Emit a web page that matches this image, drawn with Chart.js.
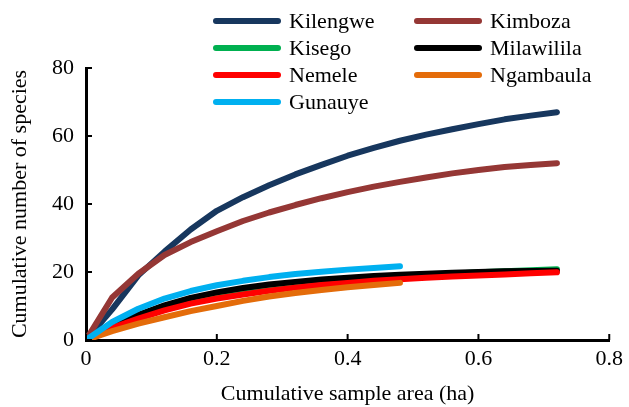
<!DOCTYPE html>
<html>
<head>
<meta charset="utf-8">
<script src="https://cdn.jsdelivr.net/npm/chart.js@4"></script>
<style>
  body { margin: 0; background: #fff; font-family: "Liberation Serif", serif; }
  #probe { position: absolute; left: -999px; top: 0; font: 22px "Liberation Serif"; }
</style>
</head>
<body>
<span id="probe">Kilengwe 0.8</span>
<canvas id="curveChart" width="629" height="407"></canvas>
<script>
// cumulative sample area (ha), one plot = 0.04 ha
const area = [0, 0.04, 0.08, 0.12, 0.16, 0.2, 0.24, 0.28, 0.32, 0.36, 0.4, 0.44, 0.48, 0.52, 0.56, 0.6, 0.64, 0.68, 0.72]

const kilengwe = [0, 9, 19, 26, 32.5, 38, 42, 45.5, 48.7, 51.5, 54.2, 56.5, 58.6, 60.4, 62, 63.5, 64.9, 66, 67]
const kimboza = [0, 12.5, 19.5, 25, 28.8, 32, 35, 37.5, 39.7, 41.7, 43.5, 45.1, 46.5, 47.8, 49, 50, 50.9, 51.5, 52]
const kisego = [0, 4, 7, 9.5, 11.6, 13.2, 14.4, 15.5, 16.4, 17.1, 17.7, 18.2, 18.7, 19.1, 19.5, 19.9, 20.2, 20.5, 20.8]
const milawilila = [0, 4.3, 7.4, 10.2, 12.4, 14, 15.3, 16.3, 17.1, 17.8, 18.3, 18.8, 19.2, 19.5, 19.8, 20, 20.2, 20.3, 20.4]
const nemele = [0, 3.6, 6.3, 8.7, 10.7, 12.2, 13.4, 14.5, 15.4, 16.2, 16.8, 17.4, 17.9, 18.3, 18.7, 19, 19.3, 19.6, 19.9]
const ngambaula = [0, 2.6, 4.8, 6.7, 8.5, 10, 11.5, 12.8, 13.8, 14.7, 15.5, 16.2, 16.8]
const gunauye = [0, 5.3, 9.2, 12.2, 14.4, 16.1, 17.4, 18.5, 19.4, 20.1, 20.7, 21.2, 21.7]

const names = ['Kilengwe', 'Kimboza', 'Kisego', 'Milawilila', 'Nemele', 'Ngambaula', 'Gunauye']
const series = [kilengwe, kimboza, kisego, milawilila, nemele, ngambaula, gunauye]
const colors = ['#17375e', '#953735', '#00b050', '#000000', '#ff0000', '#e46c0a', '#00b0f0']

const xTicks = [0, 0.2, 0.4, 0.6, 0.8]
const yTicks = [0, 20, 40, 60, 80]

const FONT = '"Liberation Serif", "DejaVu Serif", serif'

function points(values) {
    return values.map((v, i) => ({ x: area[i], y: v }))
}

// legend in two columns over the plot, and ticks pointing inwards
const extras = {
    id: 'extras',
    afterDraw(chart) {
        const c = chart.ctx
        const xs = chart.scales.x, ys = chart.scales.y
        const a = chart.chartArea
        c.save()
        c.strokeStyle = '#000'
        c.lineWidth = 2
        xTicks.forEach(t => {
            const px = xs.getPixelForValue(t)
            c.beginPath(); c.moveTo(px, a.bottom); c.lineTo(px, a.bottom - 6); c.stroke()
        })
        yTicks.forEach(t => {
            const py = ys.getPixelForValue(t)
            c.beginPath(); c.moveTo(a.left, py); c.lineTo(a.left + 6, py); c.stroke()
        })
        c.font = '22px ' + FONT
        c.textBaseline = 'middle'
        c.lineCap = 'round'
        c.lineWidth = 6
        names.forEach((n, i) => {
            const col = i % 2
            const row = Math.floor(i / 2)
            const x0 = col === 0 ? 216 : 417
            const y0 = 21 + row * 27
            c.strokeStyle = colors[i]
            c.beginPath(); c.moveTo(x0, y0); c.lineTo(x0 + 62, y0); c.stroke()
            c.fillStyle = '#000'
            c.fillText(n, x0 + 73, y0 + 1)
        })
        c.restore()
    }
}

function draw() {
    let ctx = document.getElementById('curveChart').getContext('2d')
    return new Chart(ctx, {
        type: 'line',
        data: {
            datasets: series.map((s, i) => ({
                label: names[i],
                data: points(s),
                borderColor: colors[i],
                backgroundColor: colors[i],
                borderWidth: 6,
                borderCapStyle: 'round',
                borderJoinStyle: 'round',
                pointRadius: 0,
                fill: false,
                tension: 0,
                order: names.length - i
            }))
        },
        options: {
            responsive: false,
            animation: false,
            devicePixelRatio: 1,
            layout: { padding: { left: 4, right: 17, top: 68, bottom: 0 } },
            plugins: { legend: { display: false }, tooltip: { enabled: false } },
            scales: {
                x: {
                    type: 'linear',
                    min: 0,
                    max: 0.8,
                    afterFit: s => { s.height = 67 },
                    afterBuildTicks: s => { s.ticks = xTicks.map(v => ({ value: v })) },
                    grid: { display: false, drawTicks: false },
                    border: { display: true, color: '#000', width: 3 },
                    ticks: {
                        color: '#000',
                        padding: 6,
                        font: { family: FONT, size: 22 },
                        callback: v => String(+v.toFixed(1))
                    },
                    title: {
                        display: true,
                        text: 'Cumulative sample area (ha)',
                        color: '#000',
                        font: { family: FONT, size: 22 },
                        padding: 0
                    }
                },
                y: {
                    min: 0,
                    max: 80,
                    afterFit: s => { s.width = 82 },
                    afterBuildTicks: s => { s.ticks = yTicks.map(v => ({ value: v })) },
                    grid: { display: false, drawTicks: false },
                    border: { display: true, color: '#000', width: 3 },
                    ticks: {
                        color: '#000',
                        padding: 12,
                        font: { family: FONT, size: 22 }
                    },
                    title: {
                        display: true,
                        text: 'Cumulative number of species',
                        color: '#000',
                        font: { family: FONT, size: 22 },
                        padding: { top: 3, bottom: 0 }
                    }
                }
            }
        },
        plugins: [extras]
    })
}

document.fonts.load('22px "Liberation Serif"').then(draw, draw)
</script>
</body>
</html>
